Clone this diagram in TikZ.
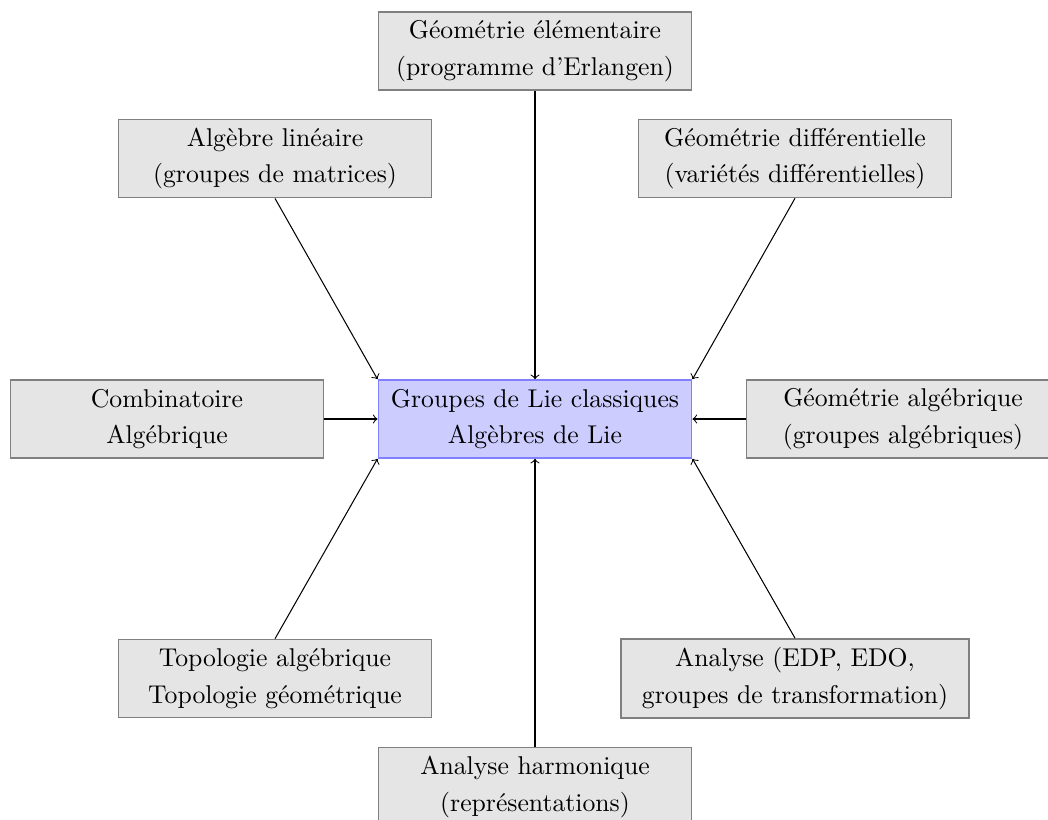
\documentclass[tikz,border=0pt]{standalone}
\usepackage{fontspec}
\begin{document}
\begin{tikzpicture}[x=0.3891pt,y=-0.3891pt,
  box/.style={draw=gray,fill=gray!20,line width=0.55pt,align=center,minimum width=122pt,minimum height=30.4pt,inner sep=3.33pt,font=\fontsize{10}{14.2}\selectfont},
  core/.style={box,draw=blue!50,fill=blue!20},
  arr/.style={->}]
\useasboundingbox (0,0) rectangle (1048,819);
\node[core] (C) at (535,419) {Groupes de Lie classiques\\Algèbres de Lie};
\node[box] (T) at (535,51) {Géométrie élémentaire\\(programme d’Erlangen)};
\node[box] (A) at (275,158.5) {Algèbre linéaire\\(groupes de matrices)};
\node[box] (D) at (795,158.5) {Géométrie différentielle\\(variétés différentielles)};
\node[box] (K) at (167,419) {Combinatoire\\Algébrique};
\node[box] (G) at (903,419) {Géométrie algébrique\\(groupes algébriques)};
\node[box] (P) at (275,678.5) {Topologie algébrique\\Topologie géométrique};
\node[box,minimum width=135.4pt] (E) at (795,678.5) {Analyse (EDP, EDO,\\groupes de transformation)};
\node[box] (H) at (535,787) {Analyse harmonique\\(représentations)};
\draw[arr] (T.south) -- (C.north);
\draw[arr] (A.south) -- (C.north west);
\draw[arr] (D.south) -- (C.north east);
\draw[arr] (K.east) -- (C.west);
\draw[arr] (G.west) -- (C.east);
\draw[arr] (P.north) -- (C.south west);
\draw[arr] (E.north) -- (C.south east);
\draw[arr] (H.north) -- (C.south);
\end{tikzpicture}
\end{document}
